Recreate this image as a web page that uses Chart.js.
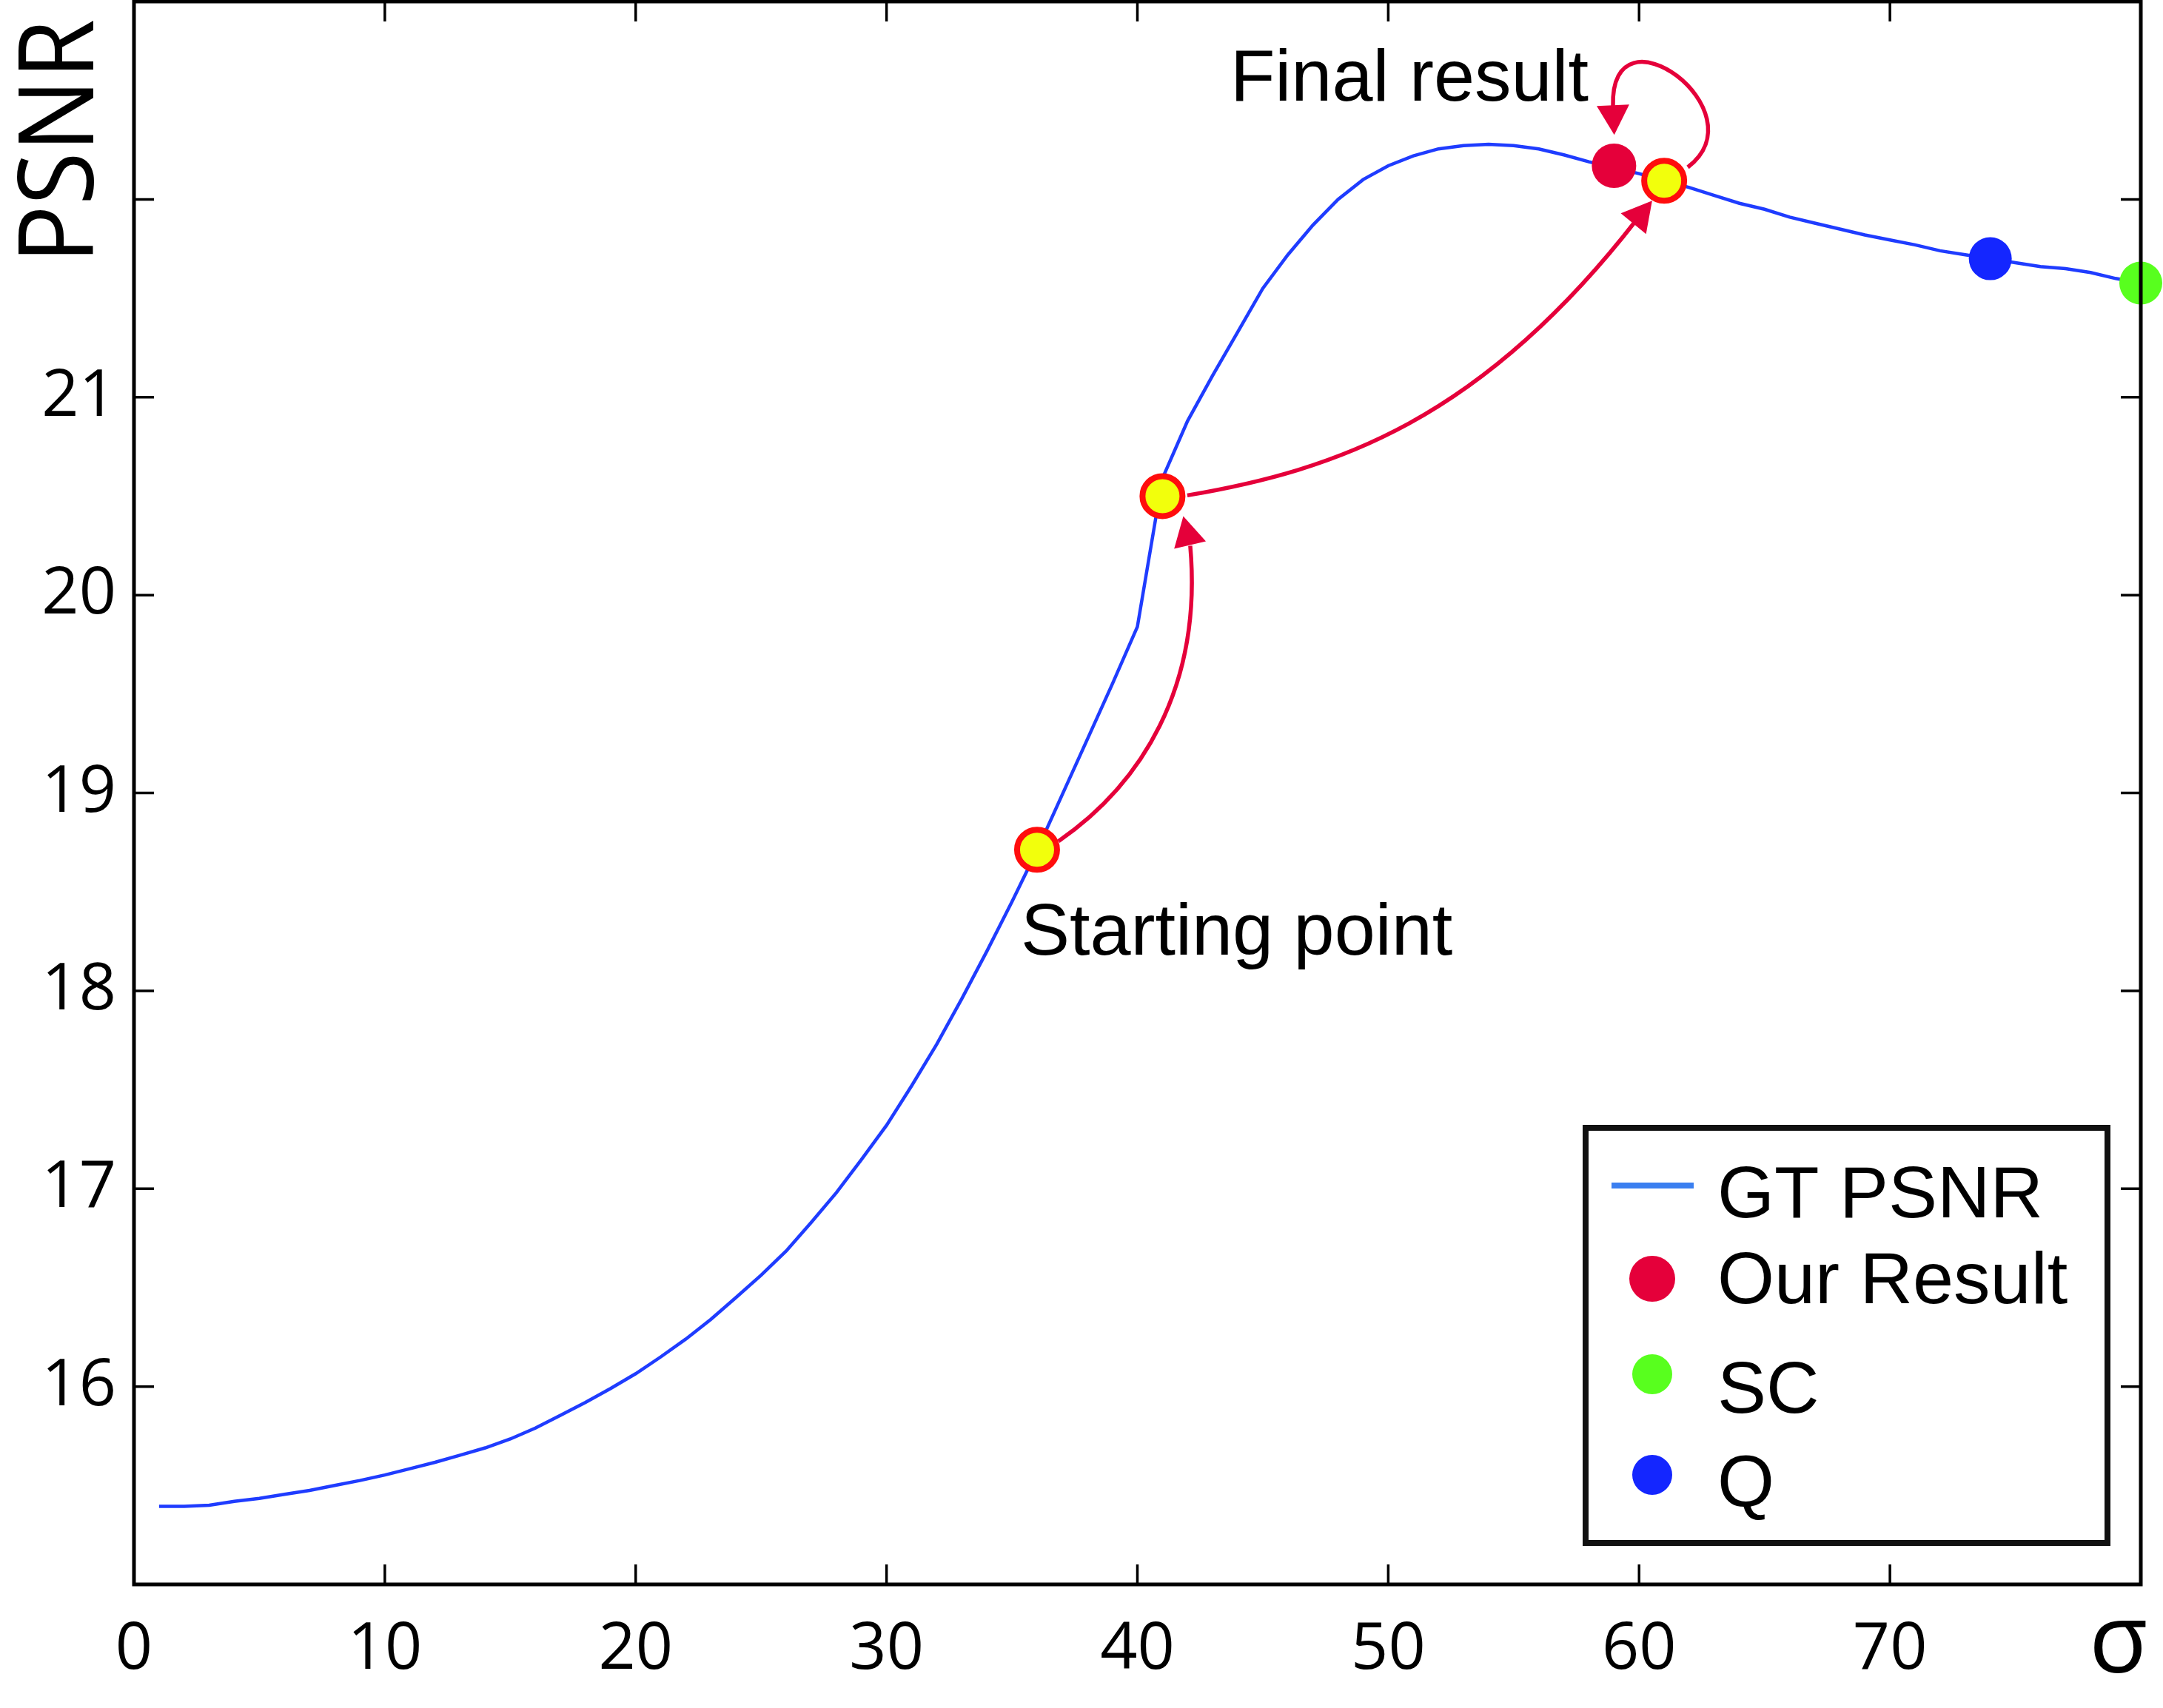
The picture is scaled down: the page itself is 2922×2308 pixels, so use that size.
<!DOCTYPE html>
<html>
<head>
<meta charset="utf-8">
<script src="https://cdn.jsdelivr.net/npm/chart.js@4.4.1/dist/chart.umd.min.js"></script>
<style>
  html, body { margin: 0; padding: 0; background: #fff; }
  #wrap { width: 2922px; height: 2308px; }
</style>
</head>
<body>
<div id="wrap"><canvas id="psnrChart" width="2922" height="2308"></canvas></div>
<script>
// === DATA ===
const sigma = [1, 2, 3, 4, 5, 6, 7, 8, 9, 10, 11, 12, 13, 14, 15, 16, 17, 18, 19, 20,
               21, 22, 23, 24, 25, 26, 27, 28, 29, 30, 31, 32, 33, 34, 35, 36, 37, 38, 39, 40,
               41, 42, 43, 44, 45, 46, 47, 48, 49, 50, 51, 52, 53, 54, 55, 56, 57, 58, 59, 60,
               61, 62, 63, 64, 65, 66, 67, 68, 69, 70, 71, 72, 73, 74, 75, 76, 77, 78, 79, 80];
const gtPsnr = [15.395, 15.395, 15.40, 15.42, 15.435, 15.455, 15.475, 15.50, 15.525, 15.553,
                15.585, 15.617, 15.653, 15.69, 15.735, 15.79, 15.855, 15.92, 15.99, 16.065,
                16.15, 16.24, 16.34, 16.45, 16.563, 16.685, 16.83, 16.98, 17.147, 17.32,
                17.52, 17.73, 17.96, 18.20, 18.45, 18.71, 18.99, 19.27, 19.55, 19.84,
                20.59, 20.88, 21.11, 21.33, 21.55, 21.72, 21.87, 22.00, 22.10, 22.17,
                22.22, 22.255, 22.272, 22.278, 22.272, 22.255, 22.225, 22.19, 22.16, 22.13,
                22.095, 22.06, 22.02, 21.98, 21.95, 21.91, 21.88, 21.85, 21.82, 21.795,
                21.77, 21.74, 21.72, 21.70, 21.68, 21.66, 21.65, 21.63, 21.60, 21.577];

const ourSigma = [59];
const ourPsnr = [22.17];
const scSigma = [80];
const scPsnr = [21.577];
const qSigma = [74];
const qPsnr = [21.70];
// intermediate steps of the search (yellow points)
const stepSigma = [36, 41, 61];
const stepPsnr = [18.713, 20.50, 22.094];

const xTickLabels = [0, 10, 20, 30, 40, 50, 60, 70];
const yTickLabels = [16, 17, 18, 19, 20, 21];
const xTickMarks = [10, 20, 30, 40, 50, 60, 70];
const yTickMarks = [16, 17, 18, 19, 20, 21, 22];

// annotation arrows in data units: start, control 1, control 2, head base, head tip
const arrowStart = [[36.854, 18.756], [40.10, 19.04], [42.608, 19.527], [42.107, 20.249], [41.83, 20.399]];
const arrowMid = [[41.989, 20.504], [47.89, 20.631], [53.67, 20.882], [59.87, 21.892], [60.52, 21.993]];
const arrowLoop = [[61.94, 22.162], [64.89, 22.446], [58.84, 23.007], [58.96, 22.472], [59.01, 22.326]];
const startText = { text: "Starting point", at: [35.35, 18.183] };
const finalText = { text: "Final result", at: [43.70, 22.498] };

const toPoints = (xs, ys) => xs.map((x, i) => ({ x: x, y: ys[i] }));

const RED = "#e5003a";

// === PLUGIN: frame, inner ticks, arrows, texts, legend ===
const decorations = {
    id: "decorations",
    afterDatasetsDraw(chart) {
        const ctx = chart.ctx;
        const xs = chart.scales.x, ys = chart.scales.y;
        const P = ([x, y]) => [xs.getPixelForValue(x), ys.getPixelForValue(y)];

        ctx.save();
        ctx.strokeStyle = RED;
        ctx.fillStyle = RED;
        ctx.lineWidth = 5.5;
        [arrowStart, arrowMid, arrowLoop].forEach(arr => {
            const p = arr.map(P);
            ctx.beginPath();
            ctx.moveTo(p[0][0], p[0][1]);
            ctx.bezierCurveTo(p[1][0], p[1][1], p[2][0], p[2][1], p[3][0], p[3][1]);
            ctx.stroke();
            // head
            const [bx, by] = p[3], [tx, ty] = p[4];
            const ang = Math.atan2(ty - by, tx - bx);
            const L = 40, W = 22;
            const cx = tx - L * Math.cos(ang), cy = ty - L * Math.sin(ang);
            ctx.beginPath();
            ctx.moveTo(tx, ty);
            ctx.lineTo(cx - W * Math.sin(ang), cy + W * Math.cos(ang));
            ctx.lineTo(cx + W * Math.sin(ang), cy - W * Math.cos(ang));
            ctx.closePath();
            ctx.fill();
        });

        ctx.fillStyle = "#000";
        ctx.font = '99px "Liberation Sans", Arial, sans-serif';
        ctx.textAlign = "left";
        ctx.textBaseline = "alphabetic";
        [startText, finalText].forEach(t => {
            const [x, y] = P(t.at);
            ctx.fillText(t.text, x, y);
        });
        ctx.restore();
    },
    afterDraw(chart) {
        const ctx = chart.ctx;
        const a = chart.chartArea;
        const xs = chart.scales.x, ys = chart.scales.y;
        ctx.save();

        // box
        ctx.strokeStyle = "#000";
        ctx.lineWidth = 5;
        ctx.strokeRect(a.left, a.top, a.right - a.left, a.bottom - a.top);

        // inner ticks on all four sides
        const tl = 27;
        ctx.lineWidth = 3.5;
        ctx.beginPath();
        xTickMarks.forEach(v => {
            const x = xs.getPixelForValue(v);
            ctx.moveTo(x, a.bottom); ctx.lineTo(x, a.bottom - tl);
            ctx.moveTo(x, a.top); ctx.lineTo(x, a.top + tl);
        });
        yTickMarks.forEach(v => {
            const y = ys.getPixelForValue(v);
            ctx.moveTo(a.left, y); ctx.lineTo(a.left + tl, y);
            ctx.moveTo(a.right, y); ctx.lineTo(a.right - tl, y);
        });
        ctx.stroke();

        // axis titles
        ctx.fillStyle = "#000";
        ctx.save();
        ctx.translate(126, 191);
        ctx.rotate(-Math.PI / 2);
        ctx.font = '141px "Open Sans", sans-serif';
        ctx.textAlign = "center";
        ctx.textBaseline = "alphabetic";
        const w = ctx.measureText("PSNR").width;
        ctx.scale(330 / w, 1);
        ctx.fillText("PSNR", 0, 0);
        ctx.restore();

        ctx.font = '130px "Open Sans", sans-serif';
        ctx.textAlign = "left";
        ctx.textBaseline = "alphabetic";
        ctx.fillText("\u03C3", 2822, 2260);

        // legend
        const box = { left: 2142, top: 1524, right: 2847, bottom: 2085 };
        ctx.fillStyle = "#fff";
        ctx.fillRect(box.left, box.top, box.right - box.left, box.bottom - box.top);
        ctx.strokeStyle = "#111";
        ctx.lineWidth = 8;
        ctx.strokeRect(box.left, box.top, box.right - box.left, box.bottom - box.top);

        const markY = [1602, 1728, 1857, 1993];
        const textY = [1645, 1761, 1909, 2035];
        const markR = [0, 31, 27, 27];
        ctx.font = '99px "Liberation Sans", Arial, sans-serif';
        chart.data.datasets.filter(d => d.label).forEach((d, i) => {
            if (d.showLine) {
                ctx.strokeStyle = "#3b7ff0";
                ctx.lineWidth = 8;
                ctx.beginPath();
                ctx.moveTo(2177, markY[i]); ctx.lineTo(2288, markY[i]);
                ctx.stroke();
            } else {
                ctx.fillStyle = d.pointBackgroundColor;
                ctx.beginPath();
                ctx.arc(2232, markY[i], markR[i], 0, Math.PI * 2);
                ctx.fill();
            }
            ctx.fillStyle = "#000";
            ctx.fillText(d.label, 2320, textY[i]);
        });
        ctx.restore();
    }
};

// === CHART ===
function createPsnrChart() {
    const ctx = document.getElementById("psnrChart").getContext("2d");
    const tickFont = { family: '"Open Sans", sans-serif', size: 88 };

    new Chart(ctx, {
        type: "scatter",
        data: {
            datasets: [{
                label: "GT PSNR",
                data: toPoints(sigma, gtPsnr),
                showLine: true,
                borderColor: "#1f3cff",
                borderWidth: 4.5,
                pointRadius: 0,
                tension: 0,
                order: 10
            }, {
                label: "Our Result",
                data: toPoints(ourSigma, ourPsnr),
                pointBackgroundColor: RED,
                pointBorderWidth: 0,
                pointRadius: 30,
                clip: false,
                order: 2
            }, {
                label: "SC",
                data: toPoints(scSigma, scPsnr),
                pointBackgroundColor: "#58ff1e",
                pointBorderWidth: 0,
                pointRadius: 29,
                clip: false,
                order: 2
            }, {
                label: "Q",
                data: toPoints(qSigma, qPsnr),
                pointBackgroundColor: "#1426ff",
                pointBorderWidth: 0,
                pointRadius: 29,
                clip: false,
                order: 2
            }, {
                data: toPoints(stepSigma, stepPsnr),
                pointBackgroundColor: "#f2ff0c",
                pointBorderColor: "#ff0d0d",
                pointBorderWidth: 8,
                pointRadius: 27,
                clip: false,
                order: 1
            }]
        },
        options: {
            responsive: false,
            devicePixelRatio: 1,
            animation: false,
            layout: { autoPadding: false, padding: { top: 2, right: 30, left: 0, bottom: 0 } },
            plugins: {
                legend: { display: false },
                tooltip: { enabled: false }
            },
            scales: {
                x: {
                    type: "linear",
                    min: 0,
                    max: 80,
                    grid: { display: false, drawTicks: false },
                    border: { display: false },
                    afterBuildTicks: s => { s.ticks = xTickLabels.map(v => ({ value: v })); },
                    afterFit: s => { s.height = 167; s.paddingLeft = 0; s.paddingRight = 0; },
                    ticks: { autoSkip: false, maxRotation: 0, padding: 36, color: "#000", font: tickFont }
                },
                y: {
                    type: "linear",
                    min: 15,
                    max: 23,
                    grid: { display: false, drawTicks: false },
                    border: { display: false },
                    afterBuildTicks: s => { s.ticks = yTickLabels.map(v => ({ value: v })); },
                    afterFit: s => { s.width = 181; s.paddingTop = 0; s.paddingBottom = 0; },
                    ticks: { autoSkip: false, padding: 24, color: "#000", font: tickFont }
                }
            }
        },
        plugins: [decorations]
    });
}

createPsnrChart();
</script>
</body>
</html>
